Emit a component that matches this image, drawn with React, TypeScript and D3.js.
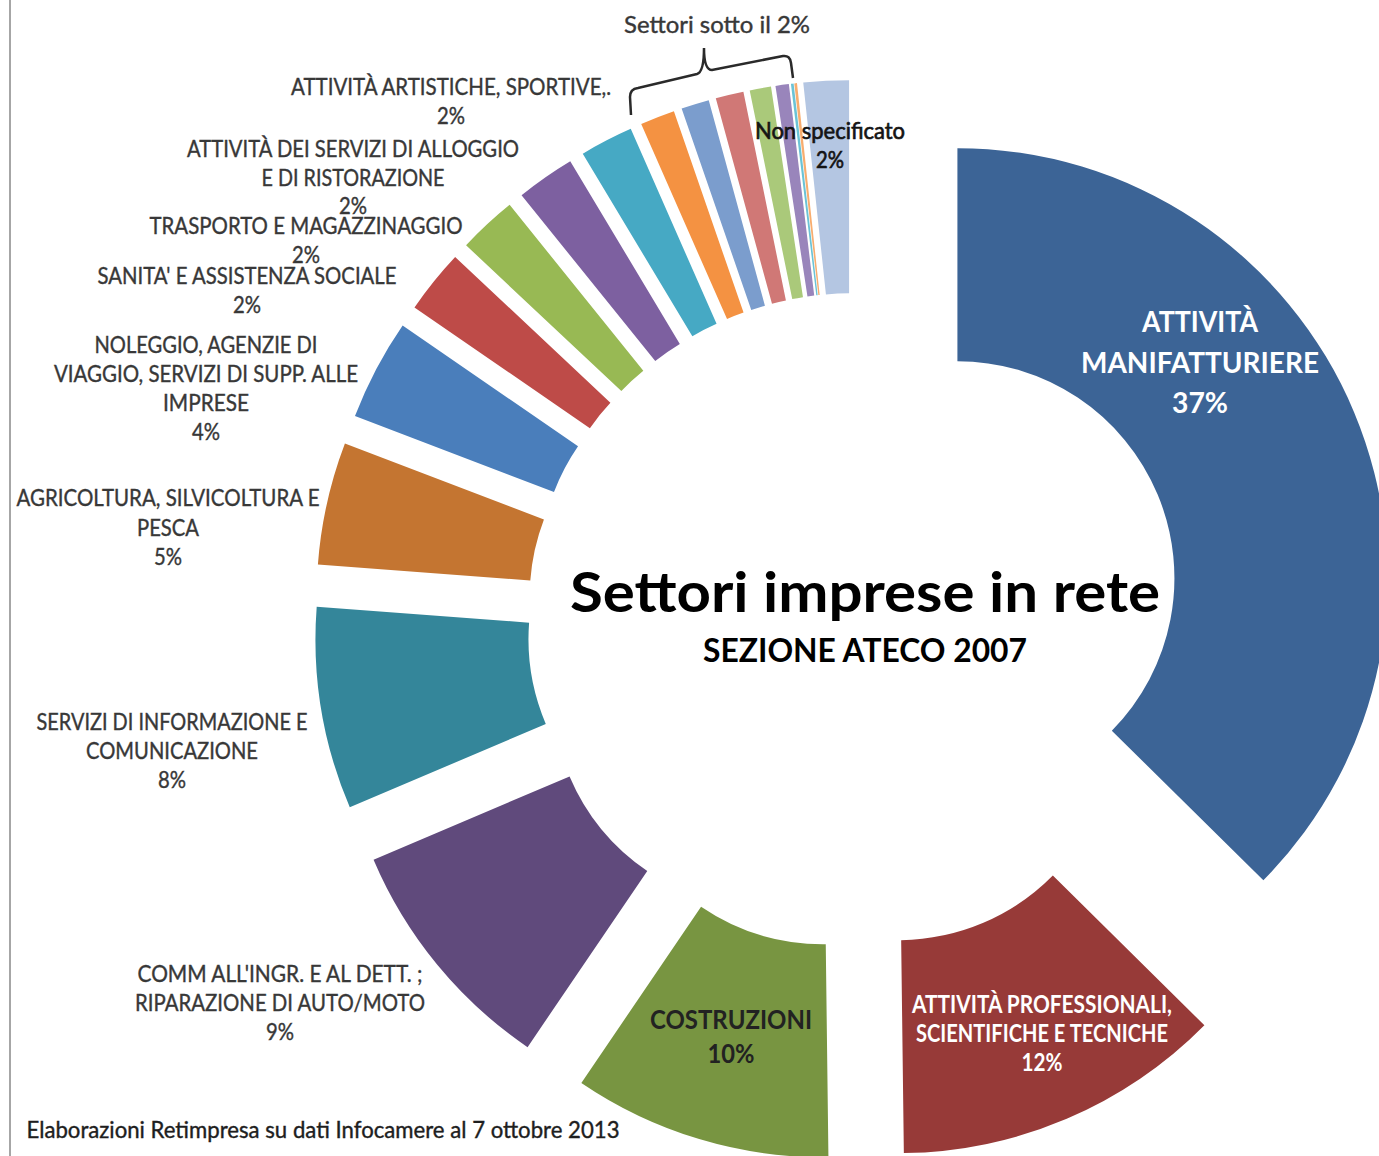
import React from 'react';
import { arc, pie, PieArcDatum } from 'd3';

// ATECO 2007 sections, clockwise from 12 o'clock
const sectors = [
  'ATTIVITÀ MANIFATTURIERE',
  'ATTIVITÀ PROFESSIONALI, SCIENTIFICHE E TECNICHE',
  'COSTRUZIONI',
  "COMM ALL'INGR. E AL DETT. ; RIPARAZIONE DI AUTO/MOTO",
  'SERVIZI DI INFORMAZIONE E COMUNICAZIONE',
  'AGRICOLTURA, SILVICOLTURA E PESCA',
  'NOLEGGIO, AGENZIE DI VIAGGIO, SERVIZI DI SUPP. ALLE IMPRESE',
  "SANITA' E ASSISTENZA SOCIALE",
  'TRASPORTO E MAGAZZINAGGIO',
  'ATTIVITÀ DEI SERVIZI DI ALLOGGIO E DI RISTORAZIONE',
  'ATTIVITÀ ARTISTICHE, SPORTIVE,.',
  'ALTRE ATTIVITÀ DI SERVIZI',
  'ATTIVITÀ FINANZIARIE E ASSICURATIVE',
  'ATTIVITÀ IMMOBILIARI',
  'FORNITURA DI ENERGIA ELETTRICA',
  'FORNITURA DI ACQUA',
  'ISTRUZIONE',
  'ESTRAZIONE DI MINERALI',
  'Non specificato',
];

// share of networked firms, %
const shares = [37.4, 12.4, 9.7, 9.1, 7.6, 4.6, 3.8, 2.4, 2.2, 2.2, 2.0, 1.3, 1.05, 1.05, 0.8, 0.5, 0.1, 0.1, 1.7];

const colors = [
  '#3c6496', '#973a38', '#789541', '#604a7c', '#34869a', '#c47531',
  '#4a7ebb', '#be4b48', '#98b954', '#7d60a0', '#46a9c4', '#f49242',
  '#7b9dcd', '#d07876', '#aac97a', '#9985bb', '#6bc3d6', '#f8ad6f', '#b4c6e2',
];

const W = 1379;
const H = 1156;
const CX = 855;
const CY = 621;
const R_IN = 217;
const R_OUT = 430;
const EXPLODE = 111;

const FONT = "Lato, 'Open Sans', sans-serif";
const GREY = '#383838';

type Slice = { name: string; value: number; color: string };

const slices: Slice[] = sectors.map((name, i) => ({ name, value: shares[i], color: colors[i] }));

// label layout: index into sectors, anchor, first baseline, line gap, font size, widths per line
type LabelSpec = {
  i: number;
  lines: string[];
  x: number;
  y: number;
  lh: number;
  size: number;
  widths: number[];
  fill: string;
  bold?: boolean;
  thick?: number;
};

const pct = (i: number) => `${Math.round(shares[i])}%`;

const labels: LabelSpec[] = [
  { i: 0, lines: ['ATTIVITÀ', 'MANIFATTURIERE', pct(0)], x: 1200, y: 332, lh: 40.5, size: 29, widths: [116, 238, 56], fill: '#fff', bold: true },
  { i: 1, lines: ['ATTIVITÀ PROFESSIONALI,', 'SCIENTIFICHE E TECNICHE', pct(1)], x: 1042, y: 1013, lh: 29, size: 24, widths: [260, 252, 41], fill: '#fff', bold: true },
  { i: 2, lines: ['COSTRUZIONI', pct(2)], x: 731, y: 1029, lh: 34, size: 27, widths: [162, 47], fill: '#222', bold: true },
  { i: 3, lines: ["COMM ALL'INGR. E AL DETT. ;", 'RIPARAZIONE DI AUTO/MOTO', pct(3)], x: 280, y: 982, lh: 29, size: 24, widths: [285, 290, 28], fill: GREY, thick: 0.4 },
  { i: 4, lines: ['SERVIZI DI INFORMAZIONE E', 'COMUNICAZIONE', pct(4)], x: 172, y: 730, lh: 29, size: 24, widths: [271, 172, 28], fill: GREY, thick: 0.4 },
  { i: 5, lines: ['AGRICOLTURA, SILVICOLTURA E', 'PESCA', pct(5)], x: 168, y: 506, lh: 29.5, size: 24, widths: [303, 62, 28], fill: GREY, thick: 0.4 },
  { i: 6, lines: ['NOLEGGIO, AGENZIE DI', 'VIAGGIO, SERVIZI DI SUPP. ALLE', 'IMPRESE', pct(6)], x: 206, y: 353, lh: 29, size: 24, widths: [223, 304, 86, 28], fill: GREY, thick: 0.4 },
  { i: 7, lines: ["SANITA' E ASSISTENZA SOCIALE", pct(7)], x: 247, y: 284, lh: 28.5, size: 24, widths: [299, 28], fill: GREY, thick: 0.4 },
  { i: 8, lines: ['TRASPORTO E MAGAZZINAGGIO', pct(8)], x: 306, y: 234, lh: 28.5, size: 24, widths: [313, 28], fill: GREY, thick: 0.4 },
  { i: 9, lines: ['ATTIVITÀ DEI SERVIZI DI ALLOGGIO', 'E DI RISTORAZIONE', pct(9)], x: 353, y: 157, lh: 28.5, size: 24, widths: [332, 183, 28], fill: GREY, thick: 0.4 },
  { i: 10, lines: ['ATTIVITÀ ARTISTICHE, SPORTIVE,.', pct(10)], x: 451, y: 95, lh: 28.5, size: 24, widths: [320, 28], fill: GREY, thick: 0.4 },
  { i: 18, lines: ['Non specificato', pct(18)], x: 830, y: 139, lh: 28.5, size: 24, widths: [150, 28], fill: '#141414', thick: 0.7 },
];

const TextLine: React.FC<{
  x: number;
  y: number;
  w: number;
  size: number;
  fill: string;
  bold?: boolean;
  thick?: number;
  text: string;
}> = ({ x, y, w, size, fill, bold, thick, text }) => (
  <text
    x={x}
    y={y}
    textAnchor="middle"
    fontFamily={FONT}
    fontSize={size}
    fontWeight={bold ? 700 : 400}
    fill={fill}
    stroke={thick ? fill : 'none'}
    strokeWidth={thick ?? 0}
    textLength={w}
    lengthAdjust="spacingAndGlyphs"
  >
    {text}
  </text>
);

export default function App() {
  const arcs = pie<Slice>()
    .sort(null)
    .value(d => d.value)
    .startAngle(0)
    .endAngle(2 * Math.PI)(slices);

  const arcGen = arc<PieArcDatum<Slice>>().innerRadius(R_IN).outerRadius(R_OUT);

  const offset = (a: PieArcDatum<Slice>) => {
    const mid = (a.startAngle + a.endAngle) / 2;
    return [EXPLODE * Math.sin(mid), -EXPLODE * Math.cos(mid)];
  };

  return (
    <svg
      width={W}
      height={H}
      viewBox={`0 0 ${W} ${H}`}
      style={{ position: 'absolute', left: 0, top: 0, background: '#fff' }}
    >
      <line x1={10} y1={0} x2={10} y2={H} stroke="#a6a6a6" strokeWidth={2} />

      <g transform={`translate(${CX},${CY})`}>
        {arcs.map(a => {
          const [dx, dy] = offset(a);
          return (
            <path
              key={a.data.name}
              d={arcGen(a) ?? ''}
              transform={`translate(${dx},${dy})`}
              fill={a.data.color}
            />
          );
        })}
      </g>

      {/* brace over the sectors below 2% */}
      <path
        d="M631,115 L630,97 Q630,89 638,88 L697,74 Q704,72 704,48 Q704,70 712,70 L783,56 Q790,55 791,63 L793,78"
        fill="none"
        stroke="#2a2a2a"
        strokeWidth={2.5}
      />
      <TextLine x={717} y={33} w={186} size={23} fill={GREY} thick={0.4} text="Settori sotto il 2%" />

      {labels.map(l =>
        l.lines.map((t, k) => (
          <TextLine
            key={`${l.i}-${k}`}
            x={l.x}
            y={l.y + k * l.lh}
            w={l.widths[k]}
            size={l.size}
            fill={l.fill}
            bold={l.bold}
            thick={l.thick}
            text={t}
          />
        )),
      )}

      <TextLine x={865} y={612} w={590} size={56} fill="#000" bold text="Settori imprese in rete" />
      <TextLine x={865} y={662} w={324} size={33} fill="#000" bold text="SEZIONE ATECO 2007" />

      <TextLine
        x={323}
        y={1138}
        w={593}
        size={24}
        fill="#1e1e1e"
        thick={0.4}
        text="Elaborazioni Retimpresa su dati Infocamere al 7 ottobre 2013"
      />
    </svg>
  );
}
